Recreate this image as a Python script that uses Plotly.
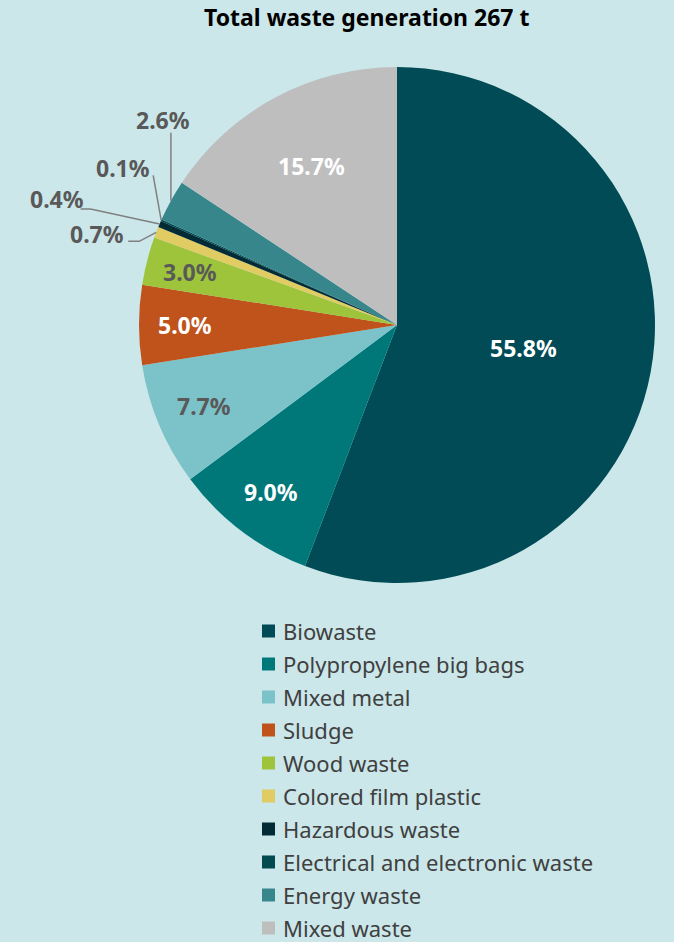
import math
import plotly.graph_objects as go

categories = ["Biowaste", "Polypropylene big bags", "Mixed metal", "Sludge", "Wood waste",
              "Colored film plastic", "Hazardous waste", "Electrical and electronic waste",
              "Energy waste", "Mixed waste"]
shares = [55.8, 9.0, 7.7, 5.0, 3.0, 0.7, 0.4, 0.1, 2.6, 15.7]
colors = ["#004b55", "#00787a", "#7cc3c9", "#c0531c", "#9dc43a",
          "#e0cc63", "#022b36", "#004a50", "#37868c", "#bebebe"]
title_text = "Total waste generation 267 t"

# label styling (layout only)
label_colors = ["white", "white", "#595959", "white", "#595959",
                "#595959", "#595959", "#595959", "#595959", "white"]
label_rfrac = [0.50, 0.81, 0.81, 0.82, 0.83, None, None, None, None, 0.70]
# outside labels: offset of text centre from slice edge (pixels)
outside_offset = {5: (-59, 2), 6: (-103, -25), 7: (-38, -52), 8: (-8, -81)}
# leader line points, as offsets from the slice edge point (pixels)
leader_pts = {5: [(-28, 9), (-17, 9)], 6: [(-79, -15), (-69, -15)],
              7: [(-8, -45)], 8: [(0, -68)]}

W, H = 674, 942
cx, cy, R = 397, 325, 258
BG = "#cbe7e9"
FONT = "Noto Sans"


def P(x, y):
    return x / W, 1 - y / H


fig = go.Figure()
fig.add_trace(go.Pie(
    labels=categories, values=shares, sort=False, direction="clockwise", rotation=0,
    marker=dict(colors=colors, line=dict(width=0)),
    textinfo="none", hoverinfo="label+percent", showlegend=False,
    domain=dict(x=[(cx - R) / W, (cx + R) / W], y=[1 - (cy + R) / H, 1 - (cy - R) / H]),
))

annotations = []
shapes = []
total = sum(shares)
cum = 0.0
for i, v in enumerate(shares):
    mid = (cum + v / 2) / total * 2 * math.pi
    cum += v
    dx, dy = math.sin(mid), -math.cos(mid)
    txt = f"<b>{v:.1f}%</b>"
    font = dict(family=FONT, size=23, color=label_colors[i])
    if label_rfrac[i] is not None:
        px, py = cx + dx * R * label_rfrac[i], cy + dy * R * label_rfrac[i]
    else:
        ex, ey = cx + dx * R, cy + dy * R
        ox, oy = outside_offset[i]
        px, py = ex + ox, ey + oy
        pts = [(ex + a, ey + b) for a, b in leader_pts[i]] + [(ex, ey)]
        path = "M " + " L ".join(f"{P(x, y)[0]},{P(x, y)[1]}" for x, y in pts)
        shapes.append(dict(type="path", xref="paper", yref="paper", path=path,
                           line=dict(color="#808080", width=1.5)))
    x, y = P(px, py)
    annotations.append(dict(x=x, y=y, xref="paper", yref="paper",
                            xanchor="center", yanchor="middle",
                            text=txt, showarrow=False, font=font))

tx, ty = P(366, 17)
annotations.append(dict(x=tx, y=ty, xref="paper", yref="paper",
                        xanchor="center", yanchor="middle",
                        text=f"<b>{title_text}</b>", showarrow=False,
                        font=dict(family=FONT, size=23, color="black")))

# legend (drawn as glyphs + text, one row per category)
leg_x, leg_y0, leg_dy, sq = 262, 631, 33, 13
for i, (cat, col) in enumerate(zip(categories, colors)):
    yc = leg_y0 + leg_dy * i
    x0, y0 = P(leg_x, yc + sq / 2)
    x1, y1 = P(leg_x + sq, yc - sq / 2)
    shapes.append(dict(type="rect", xref="paper", yref="paper",
                       x0=x0, x1=x1, y0=y0, y1=y1,
                       fillcolor=col, line=dict(width=0)))
    ax_, ay_ = P(leg_x + sq + 6, yc)
    annotations.append(dict(x=ax_, y=ay_, xref="paper", yref="paper",
                            xanchor="left", yanchor="middle", text=cat, showarrow=False,
                            font=dict(family=FONT, size=22, color="#404040")))

fig.update_layout(
    width=W, height=H, margin=dict(l=0, r=0, t=0, b=0),
    paper_bgcolor=BG, plot_bgcolor=BG,
    annotations=annotations, shapes=shapes,
    showlegend=False,
)
fig.write_html("out.html")
